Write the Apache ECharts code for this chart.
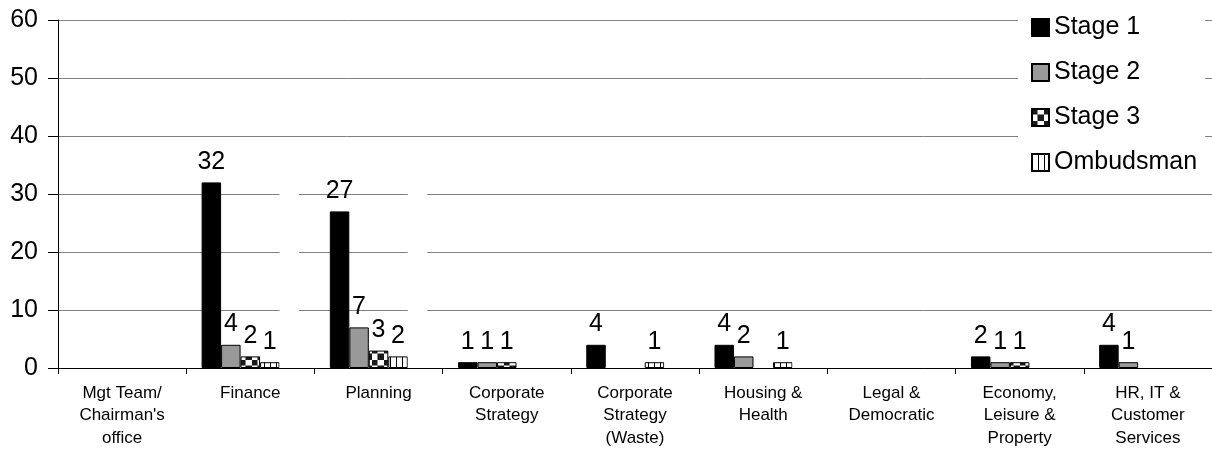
<!DOCTYPE html>
<html>
<head>
<meta charset="utf-8">
<script src="https://cdn.jsdelivr.net/npm/echarts@6/dist/echarts.min.js"></script>
<style>
  html, body { margin: 0; padding: 0; background: #fff; }
  #chart { width: 1212px; height: 452px; }
</style>
</head>
<body>
<div id="chart"></div>
<script>
// Complaints by department and stage
const categories = [
  "Mgt Team/\nChairman's\noffice",
  "Finance",
  "Planning",
  "Corporate\nStrategy",
  "Corporate\nStrategy\n(Waste)",
  "Housing &\nHealth",
  "Legal &\nDemocratic",
  "Economy,\nLeisure &\nProperty",
  "HR, IT &\nCustomer\nServices"
];
const stage1    = [null, 32, 27, 1, 4, 4, null, 2, 4];
const stage2    = [null, 4, 7, 1, null, 2, null, 1, 1];
const stage3    = [null, 2, 3, 1, null, null, null, 1, null];
const ombudsman = [null, 1, 2, null, 1, 1, null, null, null];
// department totals, drawn as plain white bars in the fifth slot
const totals    = [null, 39, 39, 3, 5, 7, null, 4, 5];
const yTicks = { min: 0, max: 60, interval: 10 };

const FONT = '"Liberation Sans", Arial, Helvetica, sans-serif';

function checkerPattern() {
  const c = document.createElement('canvas');
  c.width = 12; c.height = 12;
  const g = c.getContext('2d');
  g.fillStyle = '#ffffff'; g.fillRect(0, 0, 12, 12);
  g.fillStyle = '#1a1a1a';
  g.fillRect(0, 0, 6, 6);
  g.fillRect(6, 6, 6, 6);
  g.fillStyle = '#8a8a8a';
  g.fillRect(5, 0, 1, 12);
  g.fillRect(0, 5, 12, 1);
  return { image: c, repeat: 'repeat' };
}
function stripePattern() {
  const c = document.createElement('canvas');
  c.width = 6; c.height = 6;
  const g = c.getContext('2d');
  g.fillStyle = '#ffffff'; g.fillRect(0, 0, 6, 6);
  g.fillStyle = '#000000'; g.fillRect(0, 0, 1, 6);
  return { image: c, repeat: 'repeat' };
}

const labelStyle = {
  show: true, position: 'top', distance: 8,
  color: '#000', fontSize: 25, fontFamily: FONT,
  formatter: p => (p.value == null ? '' : String(p.value))
};

function barSeries(name, data, color) {
  return {
    name, type: 'bar', data,
    barGap: '0%', barCategoryGap: '24%',
    itemStyle: { color, borderColor: '#000', borderWidth: 1 },
    label: labelStyle,
    emphasis: { disabled: true },
    animation: false
  };
}

const totalSeries = {
  name: 'Total', type: 'bar', data: totals,
  barGap: '0%', barCategoryGap: '24%',
  itemStyle: { color: '#ffffff', borderWidth: 0 },
  label: { show: false },
  emphasis: { disabled: true },
  animation: false
};

const chart = echarts.init(document.getElementById('chart'), null, { renderer: 'canvas' });
chart.setOption({
  backgroundColor: '#fff',
  animation: false,
  textStyle: { fontFamily: FONT },
  grid: { left: 58, top: 20, width: 1158, bottom: 84, containLabel: false },
  legend: {
    orient: 'vertical',
    left: 1018, top: 0,
    backgroundColor: '#fff',
    padding: [15, 8, 10, 13],
    itemWidth: 17, itemHeight: 17, itemGap: 20,
    icon: 'rect',
    data: ['Stage 1', 'Stage 2', 'Stage 3', 'Ombudsman'],
    textStyle: { fontSize: 25, lineHeight: 25, color: '#000', fontFamily: FONT },
    selectedMode: false
  },
  xAxis: {
    type: 'category',
    data: categories,
    boundaryGap: true,
    axisLine: { lineStyle: { color: '#000', width: 1 } },
    axisTick: { show: true, alignWithLabel: false, length: 6, lineStyle: { color: '#000' } },
    axisLabel: {
      interval: 0, margin: 14, color: '#000', fontSize: 17,
      lineHeight: 22.5, fontFamily: FONT, align: 'center', verticalAlign: 'top'
    },
    splitLine: { show: false }
  },
  yAxis: {
    type: 'value',
    min: yTicks.min, max: yTicks.max, interval: yTicks.interval,
    axisLine: { show: true, lineStyle: { color: '#000', width: 1 } },
    axisTick: { show: true, inside: false, length: 10, lineStyle: { color: '#000' } },
    axisLabel: { margin: 20, color: '#000', fontSize: 25, fontFamily: FONT },
    splitLine: { show: true, lineStyle: { color: '#808080', width: 1 } }
  },
  series: [
    barSeries('Stage 1', stage1, '#000000'),
    barSeries('Stage 2', stage2, '#999999'),
    barSeries('Stage 3', stage3, checkerPattern()),
    barSeries('Ombudsman', ombudsman, stripePattern()),
    totalSeries
  ]
});
</script>
</body>
</html>
